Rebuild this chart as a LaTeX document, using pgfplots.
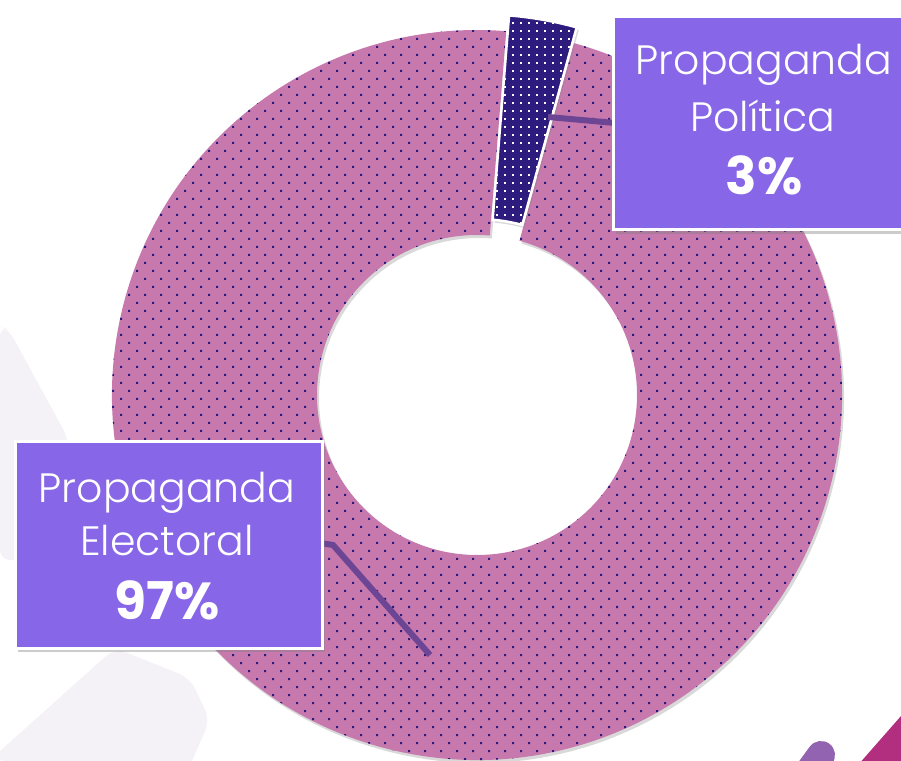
\documentclass[border=0pt]{standalone}
\usepackage{pgfplots}
\pgfplotsset{compat=1.18}
\usepackage{pgfplotstable}
\usepackage{fontspec}
\setmainfont{Poppins}[UprightFont=* Light, BoldFont=* Bold]
\usetikzlibrary{calc,patterns,shadows}

\definecolor{ringpink}{RGB}{199,120,172}
\definecolor{dotblue}{RGB}{42,26,126}
\definecolor{slicedark}{RGB}{45,27,125}
\definecolor{boxviolet}{RGB}{135,102,231}
\definecolor{leader}{RGB}{108,69,148}
\definecolor{cornermag}{RGB}{178,47,127}
\definecolor{cornerpur}{RGB}{145,99,176}
\definecolor{ghost}{RGB}{245,242,247}

% staggered dot grid for the big slice, plain grid for the small one
\pgfdeclarepatternformonly{stagdots}{\pgfpoint{-1pt}{-1pt}}{\pgfpoint{17pt}{17pt}}{\pgfpoint{16pt}{16pt}}{%
  \pgfpathrectangle{\pgfpoint{0pt}{0pt}}{\pgfpoint{2pt}{2pt}}%
  \pgfpathrectangle{\pgfpoint{8pt}{8pt}}{\pgfpoint{2pt}{2pt}}%
  \pgfusepath{fill}}
\pgfdeclarepatternformonly{griddots}{\pgfpoint{-1pt}{-1pt}}{\pgfpoint{9pt}{9pt}}{\pgfpoint{8pt}{8pt}}{%
  \pgfpathrectangle{\pgfpoint{0pt}{0pt}}{\pgfpoint{2pt}{2pt}}%
  \pgfusepath{fill}}

\pgfplotstableread{
label     value
Electoral 97
Politica  3
}\shares

\pgfplotstablegetelem{0}{value}\of\shares \let\vBig\pgfplotsretval
\pgfplotstablegetelem{1}{value}\of\shares \let\vSmall\pgfplotsretval

\pgfmathsetmacro\startA{85.4}
\pgfmathsetmacro\spanS{360*(\vSmall/(\vBig+\vSmall))}
\pgfmathsetmacro\spanB{360*(\vBig/(\vBig+\vSmall))}
\pgfmathsetmacro\endS{\startA-\spanS}
\pgfmathsetmacro\endB{\endS-\spanB}
\pgfmathsetmacro\midS{\startA-\spanS/2}

\begin{document}
\begin{tikzpicture}
\begin{axis}[
    name=ax,
    x=1pt, y=1pt,
    xmin=0, xmax=901,
    ymin=0, ymax=760,
    hide axis,
    clip=true,
]
% faint background shapes
\fill[ghost, rounded corners=10pt] (0,434) -- (9,430) -- (68,322) -- (68,200) -- (0,200) -- cycle;
\fill[ghost, rounded corners=12pt] (-10,0) -- (115,112) -- (190,82) -- (210,40) -- (188,-10) -- cycle;
\fill[cornermag] (901,44) -- (901,-5) -- (858,-5) -- cycle;
\draw[cornerpur, line width=28pt, line cap=round] (788,-40) -- (821,5);

\coordinate (c) at (axis cs:477,365);
\coordinate (c2) at ($(c)+(\midS:16pt)$);

% big slice
\path[fill=ringpink,
      drop shadow={shadow xshift=2pt, shadow yshift=-3pt, opacity=0.3},
      postaction={pattern=stagdots, pattern color=dotblue}]
  ($(c)+(\endS:365pt)$) arc[start angle=\endS, end angle=\endB, radius=365pt]
  -- ($(c)+(\endB:160pt)$) arc[start angle=\endB, end angle=\endS, radius=160pt]
  -- cycle;

% small slice, pulled out
\path[fill=slicedark,
      drop shadow={shadow xshift=2pt, shadow yshift=-3pt, opacity=0.3},
      postaction={pattern=griddots, pattern color=white},
      postaction={draw=white, line width=2.5pt}]
  ($(c2)+(\startA:365pt)$) arc[start angle=\startA, end angle=\endS, radius=365pt]
  -- ($(c2)+(\endS:160pt)$) arc[start angle=\endS, end angle=\startA, radius=160pt]
  -- cycle;

% leader lines
\draw[leader, line width=6pt] (548,643) -- (615,637);
\draw[leader, line width=6pt] (320,217) -- (333,215) -- (430,105);

% label boxes
\draw[white, line width=3pt, fill=boxviolet,
      drop shadow={shadow xshift=3pt, shadow yshift=-4pt, opacity=0.4}]
  (613,743) rectangle (930,530);
\draw[white, line width=3pt, fill=boxviolet,
      drop shadow={shadow xshift=3pt, shadow yshift=-4pt, opacity=0.4}]
  (15,318) rectangle (322,112);

\tikzset{lab/.style={anchor=base, text=white, inner sep=0pt,
    font=\fontsize{41}{48}\selectfont},
  pct/.style={anchor=base, text=white, inner sep=0pt,
    font=\fontsize{52}{60}\selectfont\bfseries}}

\node[lab] at (764,685) {Propaganda};
\node[lab] at (763,628) {Política};
\node[pct] at (764,565) {3\%};

\node[lab] at (167,257) {Propaganda};
\node[lab] at (167,204) {Electoral};
\node[pct] at (167,140) {97\%};
\end{axis}
\pgfresetboundingbox
\useasboundingbox (ax.south west) rectangle (ax.north east);
\end{tikzpicture}
\end{document}
